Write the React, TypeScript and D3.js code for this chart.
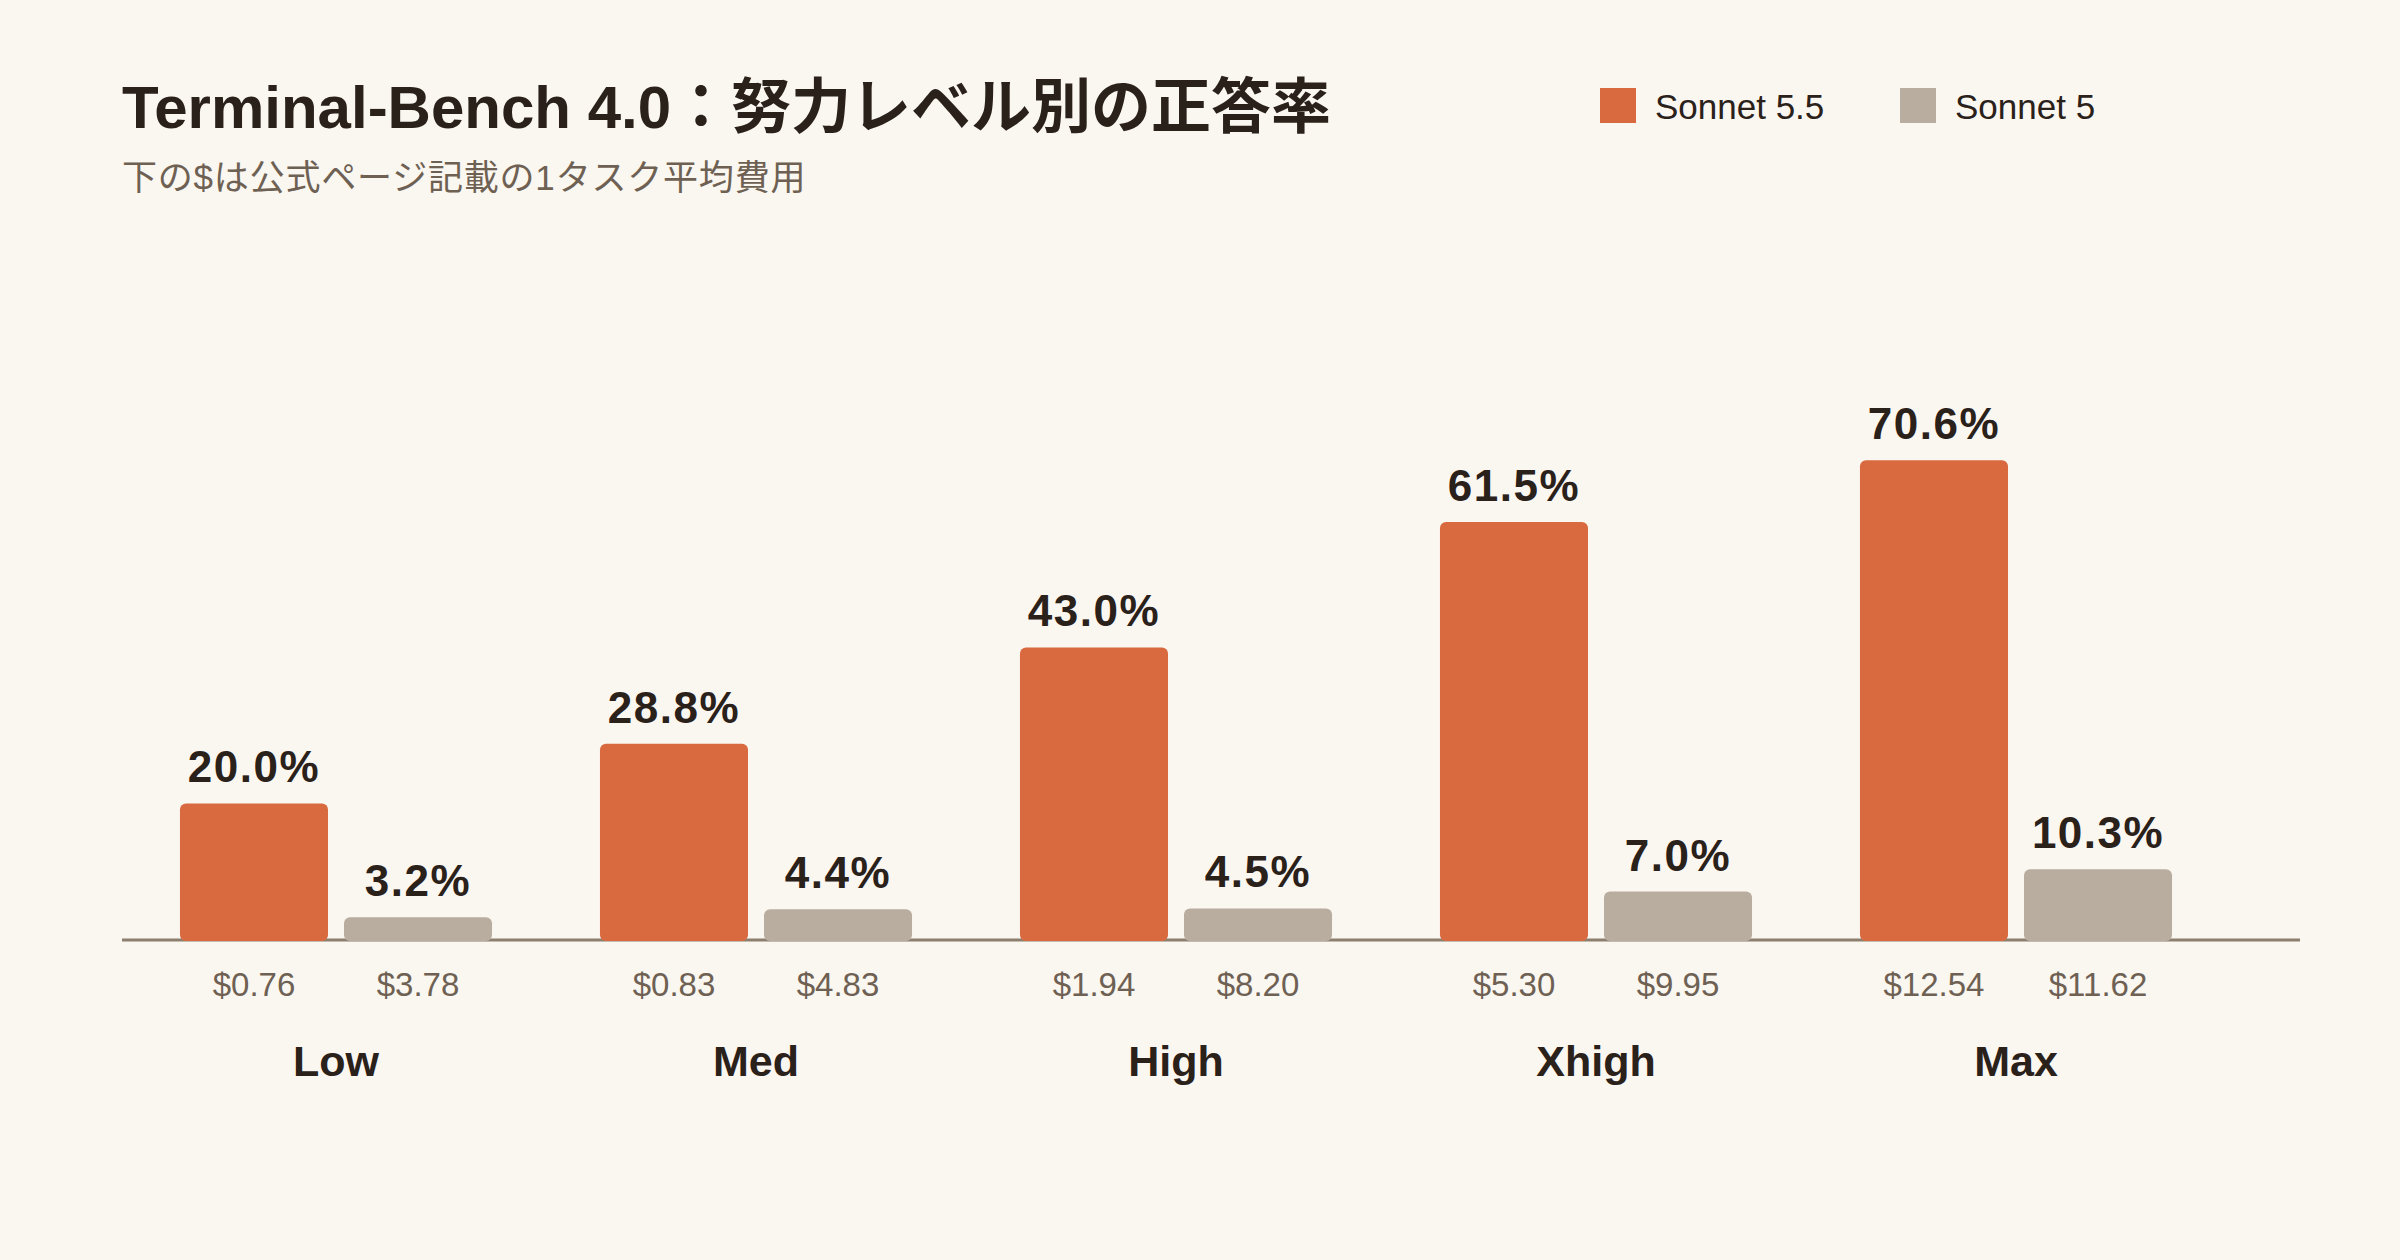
import React, { useEffect } from "react";
import * as d3 from "d3";

const levels = ["Low", "Med", "High", "Xhigh", "Max"];
const seriesNames = ["Sonnet 5.5", "Sonnet 5"];
const sonnet55 = [20.0, 28.8, 43.0, 61.5, 70.6];
const sonnet5 = [3.2, 4.4, 4.5, 7.0, 10.3];
const cost55 = ["$0.76", "$0.83", "$1.94", "$5.30", "$12.54"];
const cost5 = ["$3.78", "$4.83", "$8.20", "$9.95", "$11.62"];

const colors = ["#d9693f", "#b9ada0"];
const bg = "#faf6f0";
const ink = "#2a211a";
const muted = "#6e6153";
const font = "'Liberation Sans', 'Noto Sans CJK JP', sans-serif";

const width = 2400;
const height = 1260;
const margin = { left: 122, right: 100 };
const baseY = 939;

const App: React.FC = () => {
    useEffect(() => {
        document.body.style.margin = "0";
        document.body.style.background = bg;
    }, []);

    // group scale
    const x0 = d3
        .scaleBand<string>()
        .domain(levels)
        .range([126, 2226])
        .paddingInner(0.257)
        .paddingOuter(0.1285);

    // bars inside each group
    const x1 = d3
        .scaleBand<string>()
        .domain(seriesNames)
        .range([0, x0.bandwidth()])
        .paddingInner(0.0976);

    const y = d3.scaleLinear().domain([0, 100]).range([baseY, 261]);

    const values = [sonnet55, sonnet5];
    const costs = [cost55, cost5];

    return (
        <svg width={width} height={height} style={{ display: "block", background: bg }} fontFamily={font}>
            <rect x={0} y={0} width={width} height={height} fill={bg} />

            <text x={122} y={128} fontSize={60} fontWeight={700} fill={ink}>
                Terminal-Bench 4.0：努力レベル別の正答率
            </text>
            <text x={122} y={190} fontSize={35} letterSpacing={0.8} fill={muted}>
                下の$は公式ページ記載の1タスク平均費用
            </text>

            {/* legend */}
            {seriesNames.map((s, i) => (
                <g key={s} transform={`translate(${1600 + i * 300}, 88)`}>
                    <rect width={36} height={35} fill={colors[i]} />
                    <text x={55} y={31} fontSize={35} fill={ink}>
                        {s}
                    </text>
                </g>
            ))}

            {/* axis line */}
            <line x1={margin.left} x2={width - margin.right} y1={baseY + 1} y2={baseY + 1} stroke="#8c7f6e" strokeWidth={3} />

            {levels.map((lv, gi) => (
                <g key={lv} transform={`translate(${x0(lv)}, 0)`}>
                    {seriesNames.map((s, si) => {
                        const v = values[si][gi];
                        const bx = x1(s) as number;
                        const bw = x1.bandwidth();
                        return (
                            <g key={s}>
                                <rect
                                    x={bx}
                                    y={y(v)}
                                    width={bw}
                                    height={y(0) - y(v) + 2}
                                    rx={6}
                                    fill={colors[si]}
                                />
                                <text
                                    x={bx + bw / 2}
                                    y={y(v) - 21}
                                    textAnchor="middle"
                                    fontSize={44}
                                    fontWeight={700}
                                    letterSpacing={1.5}
                                    fill={ink}
                                >
                                    {v.toFixed(1)}%
                                </text>
                                <text x={bx + bw / 2} y={996} textAnchor="middle" fontSize={33} fill={muted}>
                                    {costs[si][gi]}
                                </text>
                            </g>
                        );
                    })}
                    <text x={x0.bandwidth() / 2} y={1076} textAnchor="middle" fontSize={43} fontWeight={700} fill={ink}>
                        {lv}
                    </text>
                </g>
            ))}
        </svg>
    );
};

export default App;
